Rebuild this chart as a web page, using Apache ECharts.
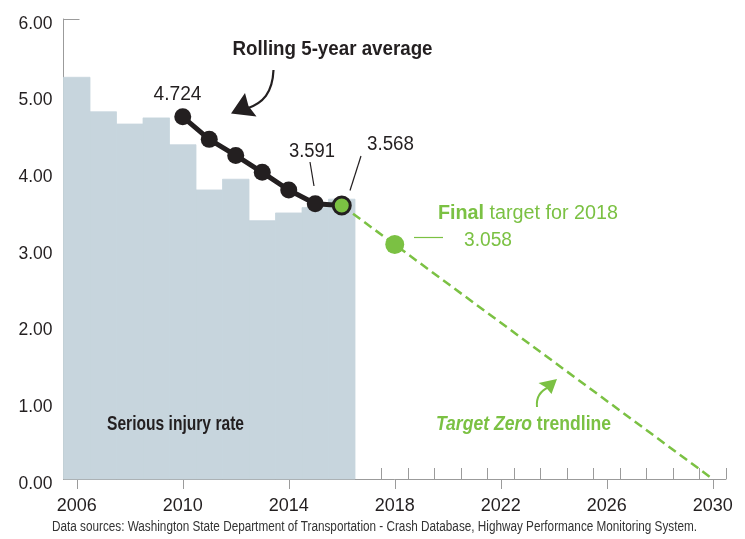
<!DOCTYPE html>
<html><head><meta charset="utf-8">
<script src="https://cdn.jsdelivr.net/npm/echarts@6/dist/echarts.min.js"></script>
<style>html,body{margin:0;padding:0;background:#fff}#c{width:745px;height:539px}</style>
</head><body><div id="c"></div>
<script>
// ---- data ----
const years = [2006, 2007, 2008, 2009, 2010, 2011, 2012, 2013, 2014, 2015, 2016];
const injuryRate = [5.24, 4.79, 4.63, 4.71, 4.36, 3.77, 3.91, 3.37, 3.47, 3.54, 3.65];
const avgYears = [2010, 2011, 2012, 2013, 2014, 2015, 2016];
const rollingAvg = [4.724, 4.43, 4.22, 4.00, 3.77, 3.591, 3.568];
const trendYears = [2016, 2030];
const trendValues = [3.568, 0];
const targetYears = [2018];
const targetValues = [3.058];
const xTickLabels = [2006, 2010, 2014, 2018, 2022, 2026, 2030];
const yTickLabels = [0, 1, 2, 3, 4, 5, 6];

const F = "'Liberation Sans', Arial, sans-serif";
const INK = '#231f20';
const GREEN = '#7bc143';
const BAR = '#c7d5dd';
const AXIS = '#9b9b9b';

const minorTicks = [];
for (let y = 2017.5; y <= 2030.5; y += 1) minorTicks.push(y);

const chart = echarts.init(document.getElementById('c'), null, {renderer: 'canvas'});

chart.setOption({
  animation: false,
  backgroundColor: '#fff',
  grid: {left: 63.5, right: 19, top: 19, bottom: 60},
  xAxis: [{
    type: 'value', min: 2005.5, max: 2030.5, position: 'bottom',
    axisLine: {show: true, lineStyle: {color: AXIS, width: 1}},
    axisTick: {show: true, customValues: xTickLabels, length: 10, lineStyle: {color: AXIS}},
    axisLabel: {customValues: xTickLabels, formatter: v => String(v), fontSize: 18, color: INK, margin: 18, fontFamily: F},
    splitLine: {show: false}
  }, {
    type: 'value', min: 2005.5, max: 2030.5, position: 'bottom', offset: 0,
    axisLine: {show: false},
    axisTick: {show: true, inside: true, customValues: minorTicks, length: 11, lineStyle: {color: AXIS}},
    axisLabel: {show: false},
    splitLine: {show: false}
  }],
  yAxis: {
    type: 'value', min: 0, max: 6, interval: 1,
    axisLine: {show: true, lineStyle: {color: AXIS, width: 1}},
    axisTick: {show: true, inside: true, length: 16, lineStyle: {color: AXIS}},
    axisLabel: {formatter: v => yTickLabels.includes(v) ? v.toFixed(2) : '', fontSize: 17.5, color: INK, margin: 11, fontFamily: F,
      verticalAlign: 'top', lineHeight: 10},
    splitLine: {show: false}
  },
  series: [{
    type: 'custom', name: 'Serious injury rate', z: 1,
    data: years.map((y, i) => [y, injuryRate[i]]),
    encode: {x: 0, y: 1},
    renderItem: (params, api) => {
      const yr = api.value(0), v = api.value(1);
      const p0 = api.coord([yr - 0.5, v]);
      const p1 = api.coord([yr + 0.5, 0]);
      return {type: 'rect', shape: {x: p0[0], y: p0[1], width: p1[0] - p0[0], height: p1[1] - p0[1]},
        style: {fill: BAR, stroke: BAR, lineWidth: 0.8}};
    }
  }, {
    type: 'line', name: 'Target Zero trendline', z: 3,
    data: trendYears.map((y, i) => [y, trendValues[i]]),
    symbol: 'none',
    lineStyle: {color: GREEN, width: 2.5, type: [9, 5]}
  }, {
    type: 'line', name: 'Rolling 5-year average', z: 4,
    data: avgYears.map((y, i) => i === avgYears.length - 1
      ? {value: [y, rollingAvg[i]], itemStyle: {color: GREEN, borderColor: INK, borderWidth: 3}}
      : [y, rollingAvg[i]]),
    symbol: 'circle', symbolSize: 17, showAllSymbol: true,
    itemStyle: {color: INK, opacity: 1},
    lineStyle: {color: INK, width: 5}
  }, {
    type: 'scatter', name: 'Final target', z: 5,
    data: targetYears.map((y, i) => [y, targetValues[i]]),
    symbol: 'circle', symbolSize: 19,
    itemStyle: {color: GREEN, opacity: 1}
  }]
});

// text fitted to the condensed width of the original lettering
const mctx = document.createElement('canvas').getContext('2d');
function measure(parts, size) {
  let w = 0;
  parts.forEach(p => {
    mctx.font = (p.i ? 'italic ' : '') + (p.b ? 'bold ' : '') + size + 'px ' + F;
    w += mctx.measureText(p.t).width;
  });
  return w;
}
function fit(x, y, parts, size, fill, targetW, align) {
  const rich = {};
  let str = '';
  parts.forEach((p, k) => {
    rich['p' + k] = {fontFamily: F, fontSize: size, fontWeight: p.b ? 'bold' : 'normal', fontStyle: p.i ? 'italic' : 'normal', fill: fill};
    str += '{p' + k + '|' + p.t + '}';
  });
  const s = targetW / measure(parts, size);
  return {type: 'text', x: x, y: y, scaleX: s, z: 20,
    style: {text: str, rich: rich, fontFamily: F, fontSize: size, fill: fill, align: align || 'left', verticalAlign: 'middle'}};
}
function ln(x1, y1, x2, y2, color, w) {
  return {type: 'line', z: 20, shape: {x1, y1, x2, y2}, style: {stroke: color, lineWidth: w || 1}};
}

chart.setOption({graphic: [
  fit(232.5, 49.5, [{t: 'Rolling 5-year average', b: 1}], 20, INK, 200),
  fit(177.5, 94, [{t: rollingAvg[0].toFixed(3)}], 20.5, INK, 48, 'center'),
  fit(312, 151, [{t: rollingAvg[5].toFixed(3)}], 20.5, INK, 46, 'center'),
  fit(390.5, 144.5, [{t: rollingAvg[6].toFixed(3)}], 20.5, INK, 47, 'center'),
  ln(310, 162, 314, 186, INK, 1.2),
  ln(361, 156, 350, 190.5, INK, 1.2),
  fit(438, 213.5, [{t: 'Final', b: 1}, {t: ' target for 2018'}], 20, GREEN, 180),
  fit(488, 240, [{t: targetValues[0].toFixed(3)}], 20.5, GREEN, 48, 'center'),
  ln(414, 237.5, 443, 237.5, GREEN, 1.2),
  fit(107, 424.5, [{t: 'Serious injury rate', b: 1}], 21, INK, 137),
  fit(436, 424.5, [{t: 'Target Zero', b: 1, i: 1}, {t: ' trendline', b: 1}], 21, GREEN, 175),
  fit(374.5, 527.5, [{t: 'Data sources: Washington State Department of Transportation - Crash Database, Highway Performance Monitoring System.'}], 14, '#333', 645, 'center'),
  // black curved arrow
  {type: 'bezierCurve', z: 20, shape: {x1: 273.5, y1: 70, cpx1: 272.5, cpy1: 93, cpx2: 263, cpy2: 103, x2: 247, y2: 108.5},
    style: {stroke: INK, lineWidth: 2.2, fill: null}},
  {type: 'polygon', z: 20, shape: {points: [[231, 113.5], [245, 93], [248.5, 106], [256.5, 116.5]]}, style: {fill: INK}},
  // green curved arrow
  {type: 'bezierCurve', z: 20, shape: {x1: 537, y1: 407, cpx1: 536, cpy1: 398, cpx2: 540, cpy2: 391, x2: 549, y2: 387},
    style: {stroke: GREEN, lineWidth: 2, fill: null}},
  {type: 'polygon', z: 20, shape: {points: [[557, 379], [538.5, 383], [546, 387.5], [551.5, 394]]}, style: {fill: GREEN}}
]});
</script>
</body></html>
